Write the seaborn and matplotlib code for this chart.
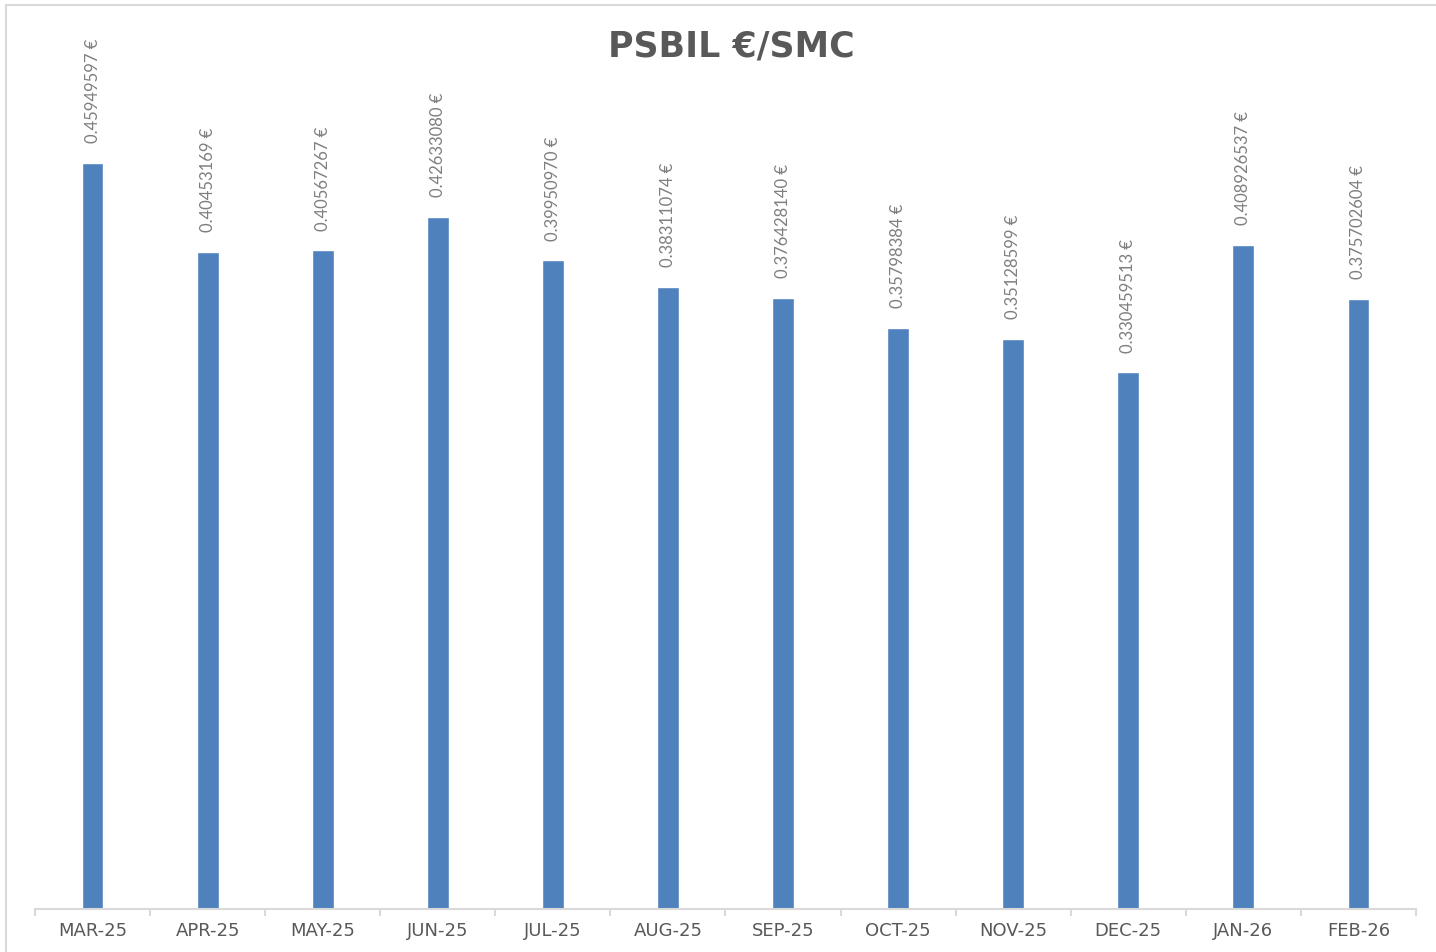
import matplotlib
matplotlib.use("Agg")
import matplotlib.pyplot as plt
import seaborn as sns
import numpy as np
import pandas as pd

months = ["MAR-25", "APR-25", "MAY-25", "JUN-25", "JUL-25", "AUG-25",
          "SEP-25", "OCT-25", "NOV-25", "DEC-25", "JAN-26", "FEB-26"]
price_labels = ["0.45949597", "0.40453169", "0.40567267", "0.42633080",
                "0.39950970", "0.38311074", "0.376428140", "0.35798384",
                "0.35128599", "0.330459513", "0.408926537", "0.375702604"]
prices = [float(p) for p in price_labels]

df = pd.DataFrame({"month": months, "price": prices})

sns.set_style("white")
plt.rcParams["font.family"] = ["Lato", "DejaVu Sans"]

grey = "#595959"
fig = plt.figure(figsize=(14.36, 9.53), dpi=100)
ax = fig.add_axes([35 / 1436, 43 / 953, (1416 - 35) / 1436, (910 - 60) / 953])

sns.barplot(data=df, x="month", y="price", color="#4f81bd", saturation=1,
            width=0.19, ax=ax)

# data labels above bars, rotated
for i, (v, lab) in enumerate(zip(prices, price_labels)):
    ax.annotate(lab + " €", (i, v), xytext=(0, 15), textcoords="offset points",
                rotation=90, ha="center", va="bottom", fontsize=12,
                color="#7f7f7f", annotation_clip=False)

ax.set_ylim(0, 850 / 1623.5)
ax.set_xlim(-0.5, len(months) - 0.5)
ax.set_xlabel("")
ax.set_ylabel("")
ax.set_yticks([])
for s in ["top", "left", "right"]:
    ax.spines[s].set_visible(False)
ax.spines["bottom"].set_color("#d9d9d9")
ax.spines["bottom"].set_linewidth(1.5)

# category boundary ticks like Excel
ax.set_xticks(np.arange(-0.5, len(months)), minor=True)
ax.tick_params(axis="x", which="minor", bottom=True, length=5, width=1.5,
               color="#d9d9d9", direction="out")
ax.tick_params(axis="x", which="major", bottom=True, length=0, pad=9,
               labelcolor=grey, labelsize=13, labelfontfamily="DejaVu Sans")

fig.text(731 / 1436, 1 - 46 / 953, "PSBIL €/SMC", ha="center", va="center",
         fontsize=25, fontweight="bold", color=grey, family="DejaVu Sans")

# chart frame
frame = plt.Rectangle((6 / 1436, -0.1), 1.2, 1 - 6 / 953 + 0.1,
                      transform=fig.transFigure, fill=False,
                      edgecolor="#d9d9d9", linewidth=1.5)
fig.patches.append(frame)

fig.savefig("out.png", dpi=100)
